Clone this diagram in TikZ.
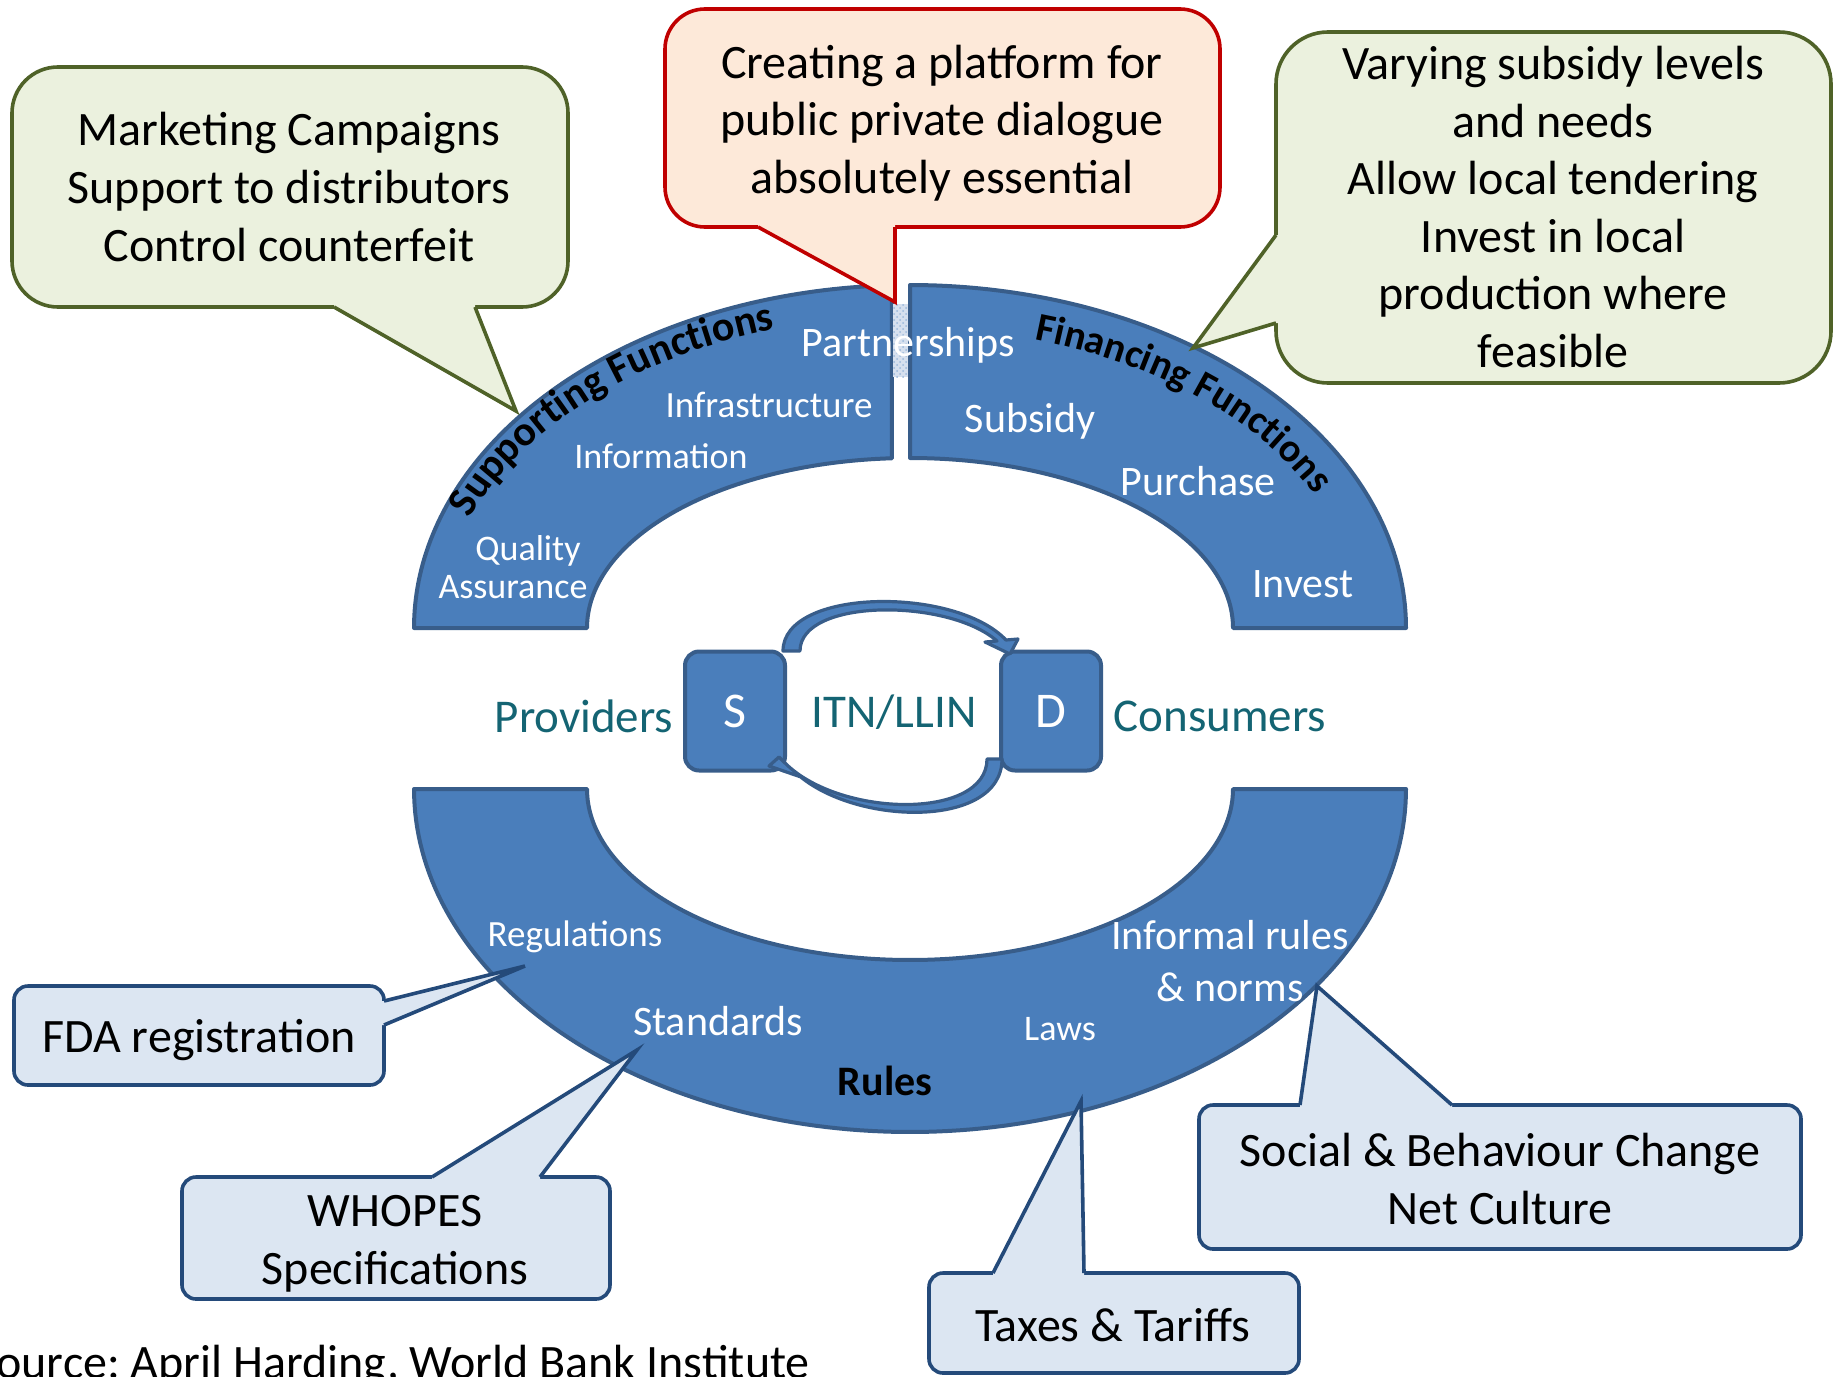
\documentclass[tikz,border=0pt]{standalone}
\usepackage{fontspec}
\setmainfont{Carlito}
\frenchspacing
\usetikzlibrary{decorations.text,arrows.meta,calc,patterns}
\definecolor{ringfill}{RGB}{74,126,187}
\definecolor{ringdraw}{RGB}{56,93,138}
\definecolor{greenfill}{RGB}{235,241,222}
\definecolor{greendraw}{RGB}{79,98,40}
\definecolor{redfill}{RGB}{253,233,217}
\definecolor{reddraw}{RGB}{192,0,0}
\definecolor{bluefill}{RGB}{220,230,242}
\definecolor{bluedraw}{RGB}{36,74,122}
\definecolor{tealtext}{RGB}{20,100,115}
\definecolor{gapfill}{RGB}{214,224,238}
\tikzset{
  ringseg/.style={fill=ringfill, draw=ringdraw, line width=2pt, line join=round},
  greenbox/.style={fill=greenfill, draw=greendraw, line width=1.8pt},
  greenline/.style={draw=greendraw, line width=1.8pt, line join=miter},
  redbox/.style={fill=redfill, draw=reddraw, line width=1.8pt},
  redline/.style={draw=reddraw, line width=1.8pt, line join=miter},
  bluebox/.style={fill=bluefill, draw=bluedraw, line width=1.8pt},
  blueline/.style={draw=bluedraw, line width=1.8pt, line join=miter},
  calltext/.style={align=center, inner sep=0pt, font=\fontsize{24}{28.8}\selectfont},
  lbl/.style={text=white, inner sep=0pt},
  sdbox/.style={fill=ringfill, draw=ringdraw, line width=2pt, rounded corners=7pt,
    minimum width=50pt, minimum height=59.5pt, inner sep=0pt, text=white,
    font=\fontsize{25}{25}\selectfont},
  tealtxt/.style={text=tealtext, inner sep=0pt, font=\fontsize{23.5}{23.5}\selectfont},
  blockarrow/.style={fill=ringfill, draw=ringdraw, line width=1.6pt, line join=round}
}
\begin{document}
\begin{tikzpicture}[x=0.5pt,y=-0.5pt]
\useasboundingbox (0,0) rectangle (1840,1376);

% ---------------- ring ----------------
\filldraw[ringseg] plot[domain=180:267.9,samples=90] ({910+496*cos(\x)},{628+343*sin(\x)})
   -- plot[domain=266.8:180,samples=90] ({910+323*cos(\x)},{628+170*sin(\x)}) -- cycle;
\filldraw[ringseg] plot[domain=270:360,samples=90] ({910+496*cos(\x)},{628+343*sin(\x)})
   -- plot[domain=360:270,samples=90] ({910+323*cos(\x)},{628+170*sin(\x)}) -- cycle;
\filldraw[ringseg] plot[domain=0:180,samples=140] ({910+496*cos(\x)},{789+343*sin(\x)})
   -- plot[domain=180:0,samples=140] ({910+323*cos(\x)},{789+171*sin(\x)}) -- cycle;
\fill[gapfill] (893,304) rectangle (908,377);
\fill[pattern=crosshatch dots, pattern color=ringfill!55] (893,304) rectangle (908,377);

% curved labels
\path[decorate, decoration={text along path, text align=left,
   text={|\fontsize{21}{21}\selectfont\bfseries|Supporting Functions}}]
   plot[domain=200.5:272,samples=120] ({910+470*cos(\x)},{628+312*sin(\x)});
\path[decorate, decoration={text along path, text align=left,
   text={|\fontsize{20}{20}\selectfont\bfseries|Financing Functions}}]
   plot[domain=286:350,samples=120] ({910+452*cos(\x)},{628+300*sin(\x)});

% ---------------- callouts ----------------
% top left green
\filldraw[greenbox, rounded corners=23pt] (12,67) rectangle (568,307);
\fill[greenfill] (334,300) -- (334,307) -- (516,411) -- (475,307) -- (475,300) -- cycle;
\draw[greenline] (334,307) -- (516,411) -- (475,307);
\node[calltext] (mkt) at (289,187) {Marketing Campaigns\\Support to distributors\\Control counterfeit};

% top middle red
\filldraw[redbox, rounded corners=20pt] (665,9) rectangle (1220,227);
\fill[redfill] (758,220) -- (758,227) -- (895,302) -- (895,227) -- (895,220) -- cycle;
\draw[redline] (758,227) -- (895,302) -- (895,227);
\node[calltext] (ppd) at (942,123) {Creating a platform for\\public private dialogue\\absolutely essential};

% top right green
\filldraw[greenbox, rounded corners=26pt] (1276,32) rectangle (1831,383);
\fill[greenfill] (1283,235) -- (1276,235) -- (1193,348) -- (1276,323) -- (1283,323) -- cycle;
\draw[greenline] (1276,235) -- (1193,348) -- (1276,323);
\node[calltext] (subs) at (1553,207) {Varying subsidy levels\\and needs\\Allow local tendering\\Invest in local\\production where\\feasible};

% FDA
\filldraw[bluebox, rounded corners=7pt] (14,986) rectangle (384,1085);
\fill[bluefill] (377,1001) -- (384,1001) -- (525,966) -- (384,1025) -- (377,1025) -- cycle;
\draw[blueline] (384,1001) -- (525,966) -- (384,1025);
\node[calltext] (fda) at (199,1040) {FDA registration};

% WHOPES
\filldraw[bluebox, rounded corners=7pt] (182,1177) rectangle (610,1299);
\fill[bluefill] (432,1184) -- (432,1177) -- (637,1050) -- (540,1177) -- (540,1184) -- cycle;
\draw[blueline] (432,1177) -- (637,1050) -- (540,1177);
\node[calltext] (who) at (395,1244) {WHOPES\\Specifications};

% Taxes
\filldraw[bluebox, rounded corners=7pt] (929,1273) rectangle (1299,1373);
\fill[bluefill] (993,1280) -- (993,1273) -- (1081,1101) -- (1084,1273) -- (1084,1280) -- cycle;
\draw[blueline] (993,1273) -- (1081,1101) -- (1084,1273);
\node[calltext] (tax) at (1113,1325) {Taxes \& Tariffs};

% Social
\filldraw[bluebox, rounded corners=7pt] (1199,1105) rectangle (1801,1249);
\fill[bluefill] (1300,1112) -- (1300,1105) -- (1317,986) -- (1452,1105) -- (1452,1112) -- cycle;
\draw[blueline] (1300,1105) -- (1317,986) -- (1452,1105);
\node[calltext] (soc) at (1500,1179) {Social \& Behaviour Change\\Net Culture};

% ---------------- ring labels ----------------
\node[lbl, font=\fontsize{21}{21}\selectfont] (partn) at (908,345) {Partnerships};
\node[lbl, font=\fontsize{18.5}{18.5}\selectfont] (infra) at (769,405) {Infrastructure};
\node[lbl, font=\fontsize{18}{18}\selectfont] (info) at (661,456) {Information};
\node[lbl, font=\fontsize{18}{18}\selectfont] (qual) at (528,551) {Quality};
\node[lbl, font=\fontsize{18}{18}\selectfont] (assur) at (513,587) {Assurance};
\node[lbl, font=\fontsize{21}{21}\selectfont] (subsidy) at (1030,421) {Subsidy};
\node[lbl, font=\fontsize{21}{21}\selectfont] (purch) at (1198,481) {Purchase};
\node[lbl, font=\fontsize{21}{21}\selectfont] (invest) at (1303,584) {Invest};
\node[lbl, font=\fontsize{18.5}{18.5}\selectfont] (regs) at (575,937) {Regulations};
\node[lbl, align=center, font=\fontsize{21}{26}\selectfont] (inf) at (1230,961) {Informal rules\\\& norms};
\node[lbl, font=\fontsize{21}{21}\selectfont] (std) at (718,1021) {Standards};
\node[lbl, font=\fontsize{18}{18}\selectfont] (laws) at (1060,1029) {Laws};
\node[inner sep=0pt, font=\fontsize{21}{21}\selectfont\bfseries] (rules) at (885,1081) {Rules};

% ---------------- centre ----------------
\node[sdbox] (S) at (735,711) {S};
\node[sdbox] (D) at (1051,711) {D};
\node[tealtxt] (itn) at (894,712) {ITN/LLIN};
\node[tealtxt] (prov) at (584,716) {Providers};
\node[tealtxt] (cons) at (1220,716) {Consumers};

% curved block arrows S -> D (top) and D -> S (bottom)
\filldraw[blockarrow] (783,651) .. controls (783,588) and (955,586) .. (1006,640)
   -- (1018,639) -- (1010,654) -- (985,642) -- (997,641)
   .. controls (948,598) and (800,598) .. (800,651) -- cycle;
\filldraw[blockarrow] (1002,759) .. controls (1002,830) and (850,826) .. (794,771)
   -- (801,777) -- (769,766) -- (779,757) -- (785,763)
   .. controls (840,818) and (987,820) .. (987,759) -- cycle;

% source
\node[anchor=base west, inner sep=0pt, font=\fontsize{24}{24}\selectfont] (src) at (-26,1378) {Source: April Harding, World Bank Institute};
\end{tikzpicture}
\end{document}
